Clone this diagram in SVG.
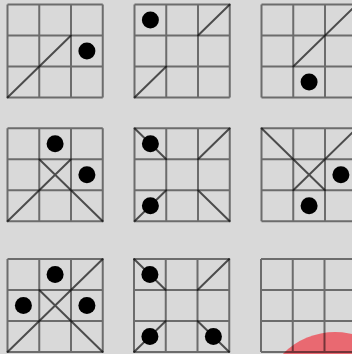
<svg xmlns="http://www.w3.org/2000/svg" xmlns:xlink="http://www.w3.org/1999/xlink" width="352" height="354" viewBox="0 0 352 354">
<style>
.grid{fill:none;stroke:#000;stroke-opacity:0.5;stroke-width:2}
.diag{fill:none;stroke:#000;stroke-opacity:0.65;stroke-width:2;stroke-linecap:round}
.dot{fill:#000}
</style>
<defs>
<path id="g" class="grid" d="M0,0H95.25M0,31H95.25M0,62H95.25M0,93H95.25M0,0V93M31.75,0V93M63.5,0V93M95.25,0V93"/>
</defs>
<rect width="352" height="354" fill="#d9d9d9"/>
<circle cx="335" cy="405" r="73" fill="#ea5f68" fill-opacity="0.92"/>
<g id="p1" transform="translate(7.5,4.5)"><use xlink:href="#g"/><path class="diag" d="M0,93L63.5,31"/><circle class="dot" cx="79.4" cy="46.5" r="8.5"/></g>
<g id="p2" transform="translate(134.5,4.5)"><use xlink:href="#g"/><path class="diag" d="M0,93L31.75,62M63.5,31L95.25,0"/><circle class="dot" cx="15.9" cy="15.5" r="8.5"/></g>
<g id="p3" transform="translate(261.5,4.5)"><use xlink:href="#g"/><path class="diag" d="M31.75,62L95.25,0"/><circle class="dot" cx="47.6" cy="77.5" r="8.5"/></g>
<g id="p4" transform="translate(7.5,128.3)"><use xlink:href="#g"/><path class="diag" d="M0,93L63.5,31M31.75,31L95.25,93"/><circle class="dot" cx="47.6" cy="15.5" r="8.5"/><circle class="dot" cx="79.4" cy="46.5" r="8.5"/></g>
<g id="p5" transform="translate(134.5,128.3)"><use xlink:href="#g"/><path class="diag" d="M0,0L31.75,31M0,93L31.75,62M63.5,31L95.25,0M63.5,62L95.25,93"/><circle class="dot" cx="15.9" cy="15.5" r="8.5"/><circle class="dot" cx="15.9" cy="77.5" r="8.5"/></g>
<g id="p6" transform="translate(261.5,128.3)"><use xlink:href="#g"/><path class="diag" d="M0,0L63.5,62M31.75,62L95.25,0"/><circle class="dot" cx="79.4" cy="46.5" r="8.5"/><circle class="dot" cx="47.6" cy="77.5" r="8.5"/></g>
<g id="p7" transform="translate(7.5,259)"><use xlink:href="#g"/><path class="diag" d="M0,93L95.25,0M31.75,31L95.25,93"/><circle class="dot" cx="47.6" cy="15.5" r="8.5"/><circle class="dot" cx="15.9" cy="46.5" r="8.5"/><circle class="dot" cx="79.4" cy="46.5" r="8.5"/></g>
<g id="p8" transform="translate(134,259)"><use xlink:href="#g"/><path class="diag" d="M0,0L31.75,31M63.5,31L95.25,0M0,93L31.75,62M63.5,62L95.25,93"/><circle class="dot" cx="15.9" cy="15.5" r="8.5"/><circle class="dot" cx="15.9" cy="77.5" r="8.5"/><circle class="dot" cx="79.4" cy="77.5" r="8.5"/></g>
<g id="p9" transform="translate(261,259)"><use xlink:href="#g"/></g>
</svg>
